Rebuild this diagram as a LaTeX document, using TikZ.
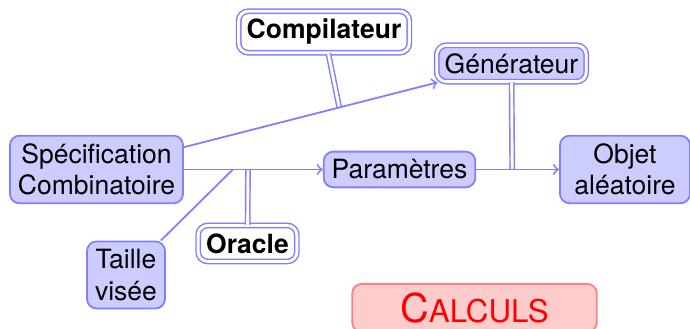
\documentclass[tikz,border=0pt]{standalone}
\usepackage{fontspec}
\setmainfont{TeX Gyre Heros}
\usetikzlibrary{calc}
\tikzset{lnk/.style={draw=blue!50, line width=0.75pt},
  dbl/.style={draw=blue!50, line width=0.6pt, double=white, double distance=1.2pt},
  box/.style={draw=blue!50, line width=0.75pt, fill=blue!20, rounded corners=4pt, align=center},
  dbox/.style={box, line width=0.6pt, double=white, double distance=1.2pt},
  tool/.style={dbox, fill=white, font=\fontsize{11}{13}\selectfont\bfseries}}

\begin{document}
\begin{tikzpicture}[x=0.415pt, y=-0.415pt, font=\fontsize{11}{13}\selectfont]
  \useasboundingbox (0,0) rectangle (690,329);
  \node[box] (spec) at (96.5,169.5) {Spécification\\Combinatoire};
  \node[box] (param) at (399.5,169.5) {Paramètres};
  \node[box, minimum width=54pt] (objet) at (625,169.5) {Objet\\aléatoire};
  \node[box] (taille) at (126,275) {Taille\\visée};
  \node[dbox] (gen) at (511.5,63.5) {Générateur};
  \node[tool] (comp) at (324,32) {Compilateur};
  \node[tool] (oracle) at (247.5,243.5) {Oracle};
  \node[box, draw=red!50, fill=red!20, text=red, minimum width=101.5pt, minimum height=20pt]
    (calc) at (474.5,308) {{\fontsize{16.5}{18}\selectfont C}{\fontsize{13}{15}\selectfont ALCULS}};
  % points where the tools plug into the flow
  \coordinate (cc) at ($(spec)!0.585!(gen)$);
  \coordinate (ct) at ($(spec)!0.45!(param)$);
  \coordinate (co) at ($(spec)!0.5!(param)$);
  \coordinate (cg) at ($(param)!0.5!(objet)$);
  \draw[dbl] (comp) -- (cc);
  \draw[dbl] (oracle) -- (co);
  \draw[dbl] (gen) -- (cg);
  \draw[lnk, ->] (spec) -- (gen);
  \draw[lnk, ->] (spec) -- (param);
  \draw[lnk, ->] (param) -- (objet);
  \draw[lnk] (taille) -- (ct);
\end{tikzpicture}
\end{document}
